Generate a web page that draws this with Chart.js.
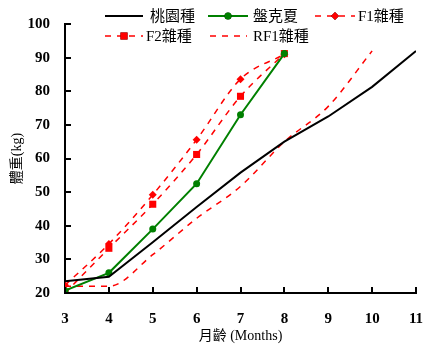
<!DOCTYPE html>
<html>
<head>
<meta charset="utf-8">
<script src="https://cdn.jsdelivr.net/npm/chart.js@4"></script>
<style>
  html, body { margin: 0; padding: 0; background: #fff; }
  #wrap { width: 432px; height: 355px; }
</style>
</head>
<body>
<div id="wrap"><canvas id="c" width="432" height="355"></canvas></div>
<script>
const months = [3, 4, 5, 6, 7, 8, 9, 10, 11];
const seriesNames = ['桃園種', '盤克夏', 'F1雜種', 'F2雜種', 'RF1雜種'];
const taoyuan   = [23.5, 24.8, 35.1, 45.6, 55.8, 65.0, 72.5, 81.3, 92.0];
const berkshire = [20.7, 26.0, 39.0, 52.5, 73.0, 91.2, null, null, null];
const f1Hybrid  = [22.3, 34.6, 49.2, 65.6, 83.6, 91.0, null, null, null];
const f2Hybrid  = [20.0, 33.3, 46.4, 61.2, 78.5, 91.2, null, null, null];
const rf1Hybrid = [22.0, 22.0, 31.4, 42.2, 51.7, 65.0, 75.5, 92.0, null];
const yTicks = [20, 30, 40, 50, 60, 70, 80, 90, 100];
const xTitle = '月齡 (Months)';
const yTitle = '體重(kg)';

function pts(arr) {
  return months.map((m, i) => ({ x: m, y: arr[i] })).filter(p => p.y !== null);
}

const RED = '#ff0000', GREEN = '#008000', BLACK = '#000000';
const DASH = [6, 6];

const datasets = [
  { label: seriesNames[0], data: pts(taoyuan), borderColor: BLACK, borderWidth: 2, pointRadius: 0, tension: 0 },
  { label: seriesNames[1], data: pts(berkshire), borderColor: GREEN, backgroundColor: GREEN, borderWidth: 2,
    pointStyle: 'circle', pointRadius: 3.5, pointBorderWidth: 0, tension: 0 },
  { label: seriesNames[2], data: pts(f1Hybrid), borderColor: RED, backgroundColor: RED, borderWidth: 1.5, borderDash: DASH,
    pointStyle: 'rectRot', pointRadius: 4, pointBorderWidth: 0, cubicInterpolationMode: 'monotone' },
  { label: seriesNames[3], data: pts(f2Hybrid), borderColor: RED, backgroundColor: RED, borderWidth: 1.5, borderDash: DASH,
    pointStyle: 'rect', pointRadius: 5, pointBorderWidth: 0, cubicInterpolationMode: 'monotone' },
  { label: seriesNames[4], data: pts(rf1Hybrid), borderColor: RED, backgroundColor: RED, borderWidth: 1.5, borderDash: DASH,
    pointRadius: 0, cubicInterpolationMode: 'monotone' }
];

const LABEL_FONT = '"Liberation Serif", "Noto Sans CJK TC", serif';

// Legend placement (layout only)
const legendItems = [
  { ds: 0, x0: 105, x1: 143, tx: 150, y: 16 },
  { ds: 1, x0: 208, x1: 248, tx: 253, y: 16 },
  { ds: 2, x0: 315, x1: 355, tx: 358, y: 16 },
  { ds: 3, x0: 105, x1: 143, tx: 146, y: 36 },
  { ds: 4, x0: 210, x1: 247, tx: 253, y: 36 }
];

const customLegend = {
  id: 'customLegend',
  afterDraw(chart) {
    const ctx = chart.ctx;
    ctx.save();
    legendItems.forEach(it => {
      const ds = chart.data.datasets[it.ds];
      ctx.strokeStyle = ds.borderColor;
      ctx.lineWidth = ds.borderWidth;
      ctx.setLineDash(ds.borderDash || []);
      ctx.beginPath();
      ctx.moveTo(it.x0, it.y);
      ctx.lineTo(it.x1, it.y);
      ctx.stroke();
      ctx.setLineDash([]);
      if (ds.pointRadius > 0) {
        Chart.helpers.drawPoint(ctx, {
          pointStyle: ds.pointStyle, radius: ds.pointRadius, rotation: 0, borderWidth: 0
        }, (it.x0 + it.x1) / 2, it.y);
        ctx.fillStyle = ds.backgroundColor;
        ctx.fill();
      }
      ctx.fillStyle = '#000';
      ctx.font = '15px ' + LABEL_FONT;
      ctx.textAlign = 'left';
      ctx.textBaseline = 'middle';
      ctx.fillText(ds.label, it.tx, it.y + 1);
    });
    ctx.restore();
  }
};

const innerTicks = {
  id: 'innerTicks',
  afterDraw(chart) {
    const ctx = chart.ctx;
    const xs = chart.scales.x, ys = chart.scales.y;
    const area = chart.chartArea;
    ctx.save();
    ctx.strokeStyle = '#000';
    ctx.lineWidth = 2;
    ctx.beginPath();
    xs.ticks.forEach(t => {
      const px = Math.round(xs.getPixelForValue(t.value));
      ctx.moveTo(px, area.bottom);
      ctx.lineTo(px, area.bottom - 6);
    });
    ys.ticks.forEach(t => {
      const py = Math.round(ys.getPixelForValue(t.value));
      ctx.moveTo(area.left, py);
      ctx.lineTo(area.left + 6, py);
    });
    ctx.stroke();
    ctx.restore();
  }
};

new Chart(document.getElementById('c'), {
  type: 'line',
  data: { datasets },
  options: {
    responsive: false,
    animation: false,
    devicePixelRatio: 1,
    layout: { padding: { top: 22, right: 16, left: 0, bottom: 0 } },
    plugins: { legend: { display: false }, tooltip: { enabled: false } },
    scales: {
      x: {
        type: 'linear', min: 3, max: 11,
        afterFit(s) { s.height = 62; s.paddingLeft = 0; s.paddingRight = 0; },
        afterBuildTicks(s) { s.ticks = months.map(v => ({ value: v })); },
        grid: { display: true, drawOnChartArea: false, drawTicks: false },
        border: { display: true, color: '#000', width: 2 },
        ticks: { color: '#000', padding: 17, maxRotation: 0,
          font: { family: LABEL_FONT, size: 15, weight: 'bold' } },
        title: { display: true, text: xTitle, color: '#000', padding: { top: 0, bottom: 10 },
          font: { family: LABEL_FONT, size: 14 } }
      },
      y: {
        type: 'linear', min: 20, max: 100,
        afterFit(s) { s.width = 65; },
        afterBuildTicks(s) { s.ticks = yTicks.map(v => ({ value: v })); },
        grid: { display: true, drawOnChartArea: false, drawTicks: false },
        border: { display: true, color: '#000', width: 2 },
        ticks: { color: '#000', padding: 15,
          font: { family: LABEL_FONT, size: 15, weight: 'bold' } },
        title: { display: true, text: yTitle, color: '#000', padding: { top: 9, bottom: 0 },
          font: { family: LABEL_FONT, size: 14 } }
      }
    }
  },
  plugins: [innerTicks, customLegend]
});
</script>
</body>
</html>
